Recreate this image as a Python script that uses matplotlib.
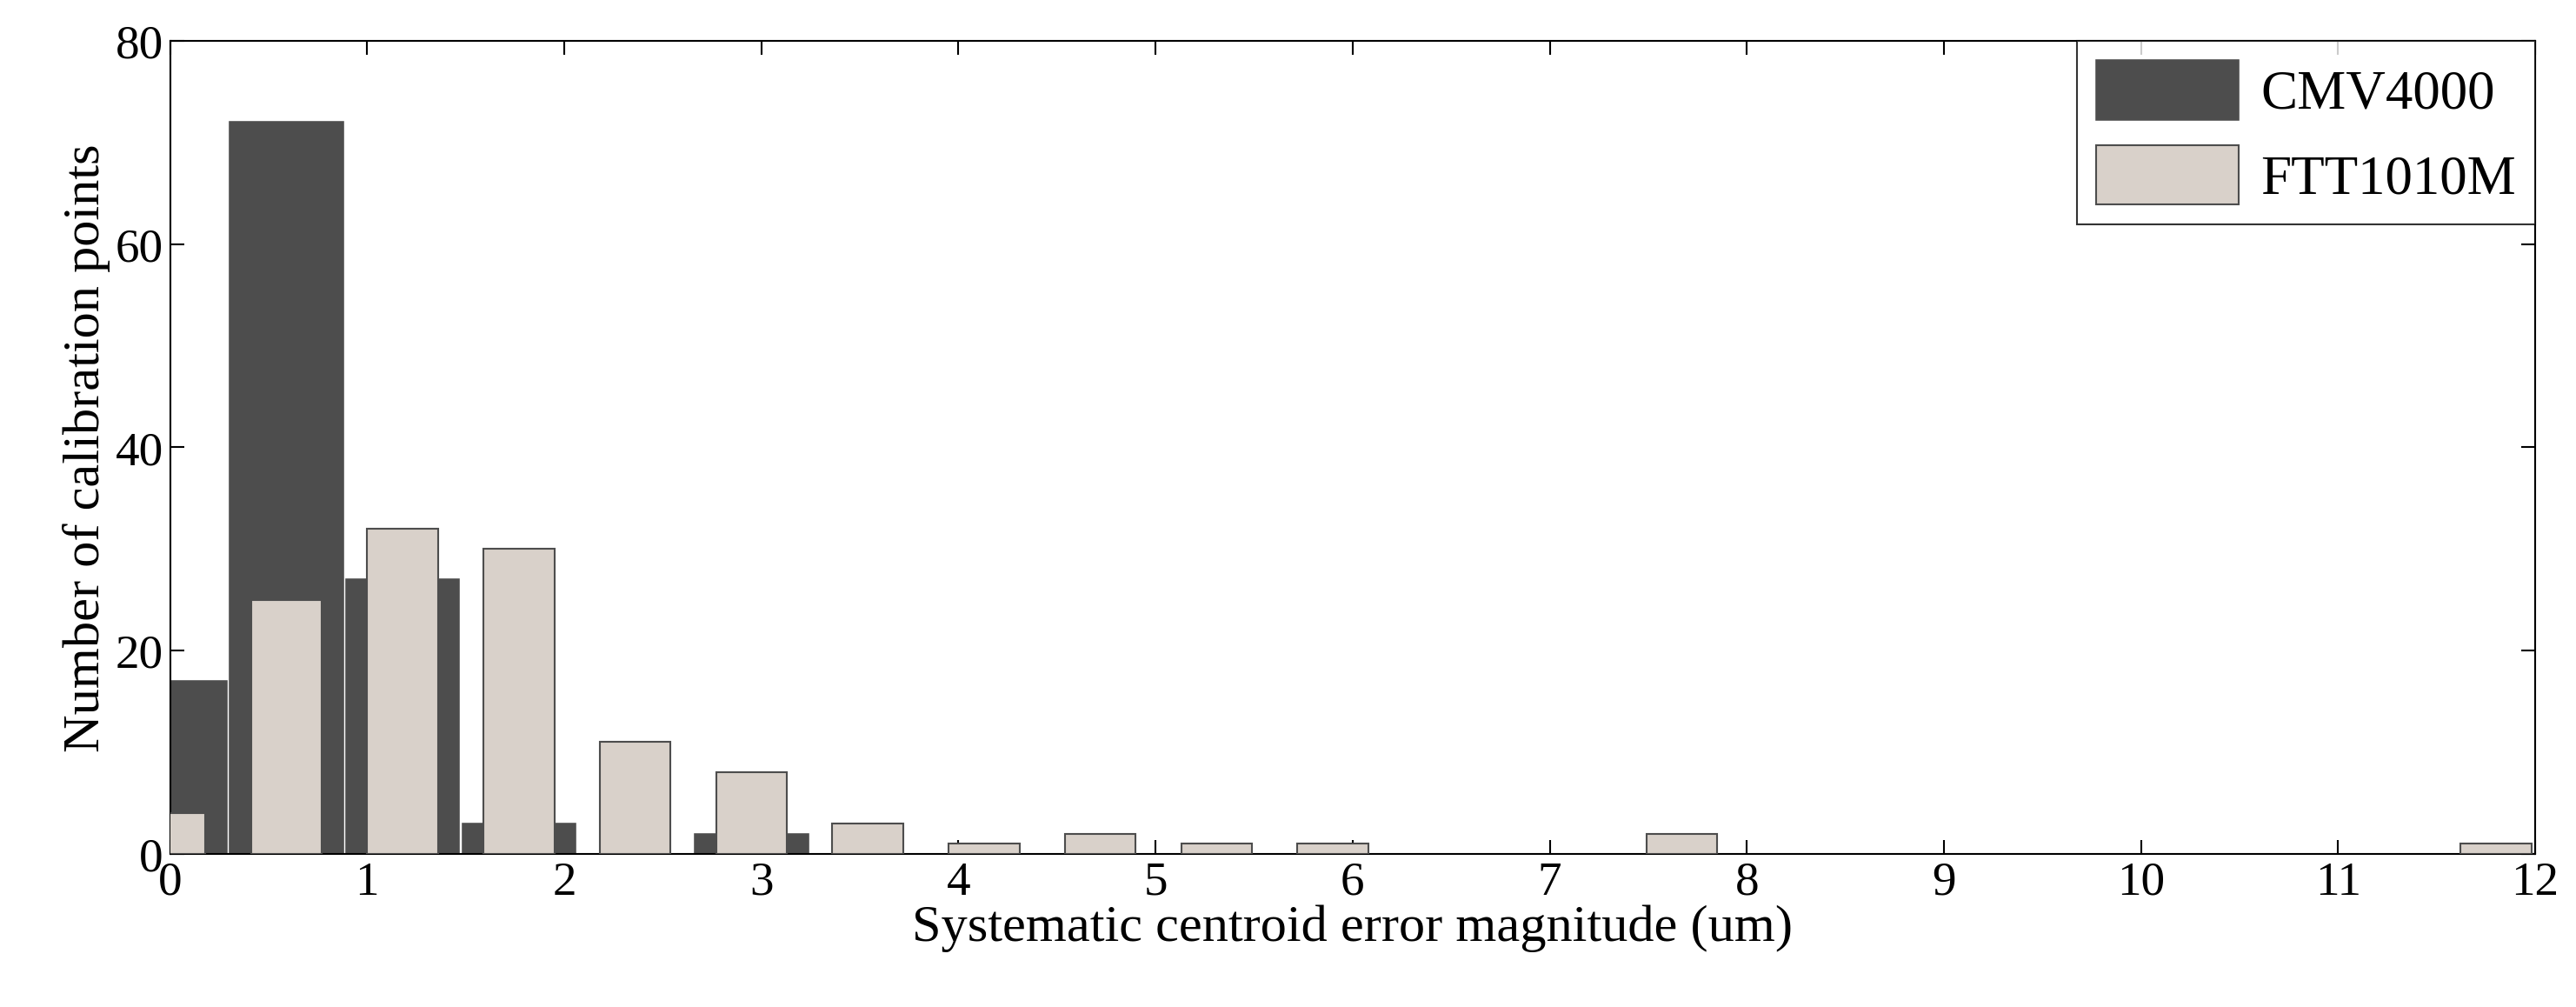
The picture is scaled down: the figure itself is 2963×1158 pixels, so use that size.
import matplotlib.pyplot as plt
from matplotlib.ticker import MultipleLocator

plt.rcParams["font.family"] = ["Liberation Serif", "DejaVu Serif"]

bin_step = 0.59
cmv_counts = [17, 72, 27, 3, 0, 2]
ftt_counts = [4, 25, 32, 30, 11, 8, 3, 1, 2, 1, 1, 0, 0, 2, 0, 0, 0, 0, 0, 0, 1]

cmv_x = [i * bin_step for i in range(len(cmv_counts))]
ftt_x = [i * bin_step for i in range(len(ftt_counts))]

# skip empty bins so no flat outlines are drawn
cmv_pts = [(x, c) for x, c in zip(cmv_x, cmv_counts) if c > 0]
ftt_pts = [(x, c) for x, c in zip(ftt_x, ftt_counts) if c > 0]

fig = plt.figure(figsize=(15.68, 6.13), dpi=189)
ax = fig.add_axes([0.066, 0.152, 0.918, 0.807])

ax.bar([p[0] for p in cmv_pts], [p[1] for p in cmv_pts], width=0.575,
       color="#4d4d4d", edgecolor="#4d4d4d", linewidth=0.6, label="CMV4000", zorder=2)
ax.bar([p[0] for p in ftt_pts], [p[1] for p in ftt_pts], width=0.36,
       color="#d9d1ca", edgecolor="#4d4d4d", linewidth=0.8, label="FTT1010M", zorder=3)

ax.set_xlim(0, 12)
ax.set_ylim(0, 80)
ax.xaxis.set_major_locator(MultipleLocator(1))
ax.yaxis.set_major_locator(MultipleLocator(20))
ax.tick_params(direction="in", top=True, right=True, labelsize=21, length=6, pad=3)
ax.set_xlabel("Systematic centroid error magnitude (um)", fontsize=23, labelpad=0)
ax.set_ylabel("Number of calibration points", fontsize=23, labelpad=2)

leg = ax.legend(loc="upper right", fontsize=24, frameon=True, fancybox=False,
                borderaxespad=0, handlelength=2.6, handleheight=1.3,
                borderpad=0.35, labelspacing=0.45, handletextpad=0.4)
leg.get_frame().set_edgecolor("black")
leg.get_frame().set_linewidth(0.8)

fig.savefig("out.png", dpi=189, facecolor="white")
